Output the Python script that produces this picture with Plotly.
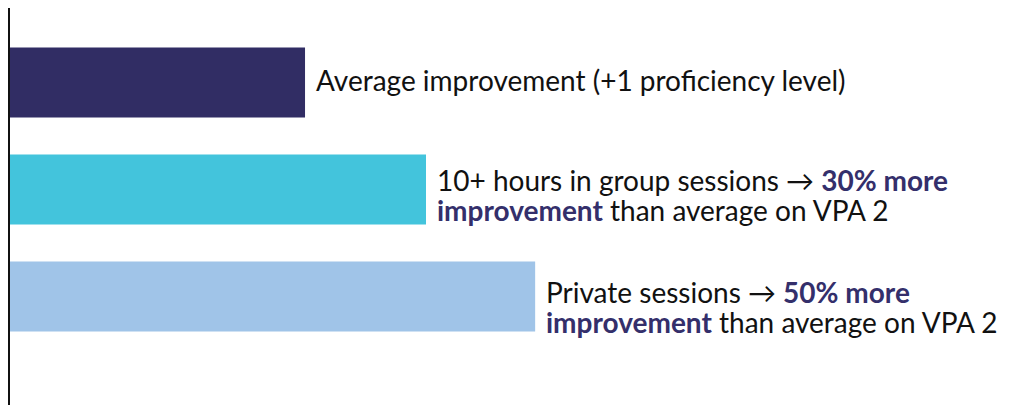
import plotly.graph_objects as go

categories = ["Average", "Group sessions", "Private sessions"]
values = [1.0, 1.41, 1.78]
colors = ["#312D64", "#43C4DC", "#A0C4E8"]
label_lines = [
    ["Average improvement (+1 proficiency level)"],
    ["10+ hours in group sessions \u2192 <b><span style='color:#342F6B'>30% more</span></b>",
     "<b><span style='color:#342F6B'>improvement</span></b> than average on VPA 2"],
    ["Private sessions \u2192 <b><span style='color:#342F6B'>50% more</span></b>",
     "<b><span style='color:#342F6B'>improvement</span></b> than average on VPA 2"],
]
line_shifts = [[2], [9, -21], [4, -26]]

fig = go.Figure(go.Bar(
    y=categories, x=values, orientation="h",
    marker=dict(color=colors, line=dict(width=0)),
    width=0.654, hoverinfo="skip",
))

for cat, val, lines, shifts in zip(categories, values, label_lines, line_shifts):
    for txt, ys in zip(lines, shifts):
        fig.add_annotation(x=val, y=cat, text=txt, showarrow=False,
                           xanchor="left", yanchor="middle", xshift=10, yshift=ys,
                           borderpad=0,
                           font=dict(family="Lato", size=28, color="#111111"))

fig.update_layout(
    width=1024, height=405,
    margin=dict(l=2, r=0, t=0, b=0),
    paper_bgcolor="white", plot_bgcolor="white",
    showlegend=False,
    xaxis=dict(range=[0, 3.464], visible=False, fixedrange=True),
    yaxis=dict(range=[3.089, -0.696], showline=True, linecolor="#111111", linewidth=2,
               showticklabels=False, ticks="", showgrid=False, zeroline=False),
)
fig.write_html("out.html")
